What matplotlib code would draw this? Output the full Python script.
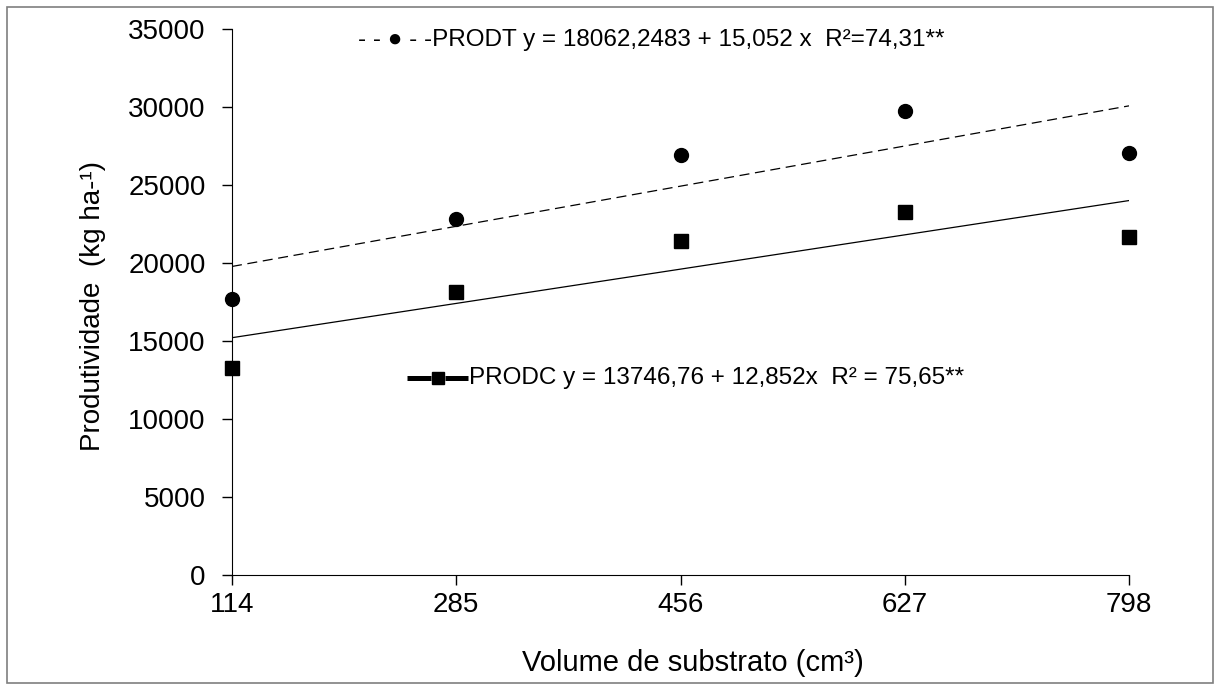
import matplotlib
matplotlib.use('Agg')
import matplotlib.pyplot as plt
from matplotlib.lines import Line2D
import numpy as np

plt.rcParams['font.family'] = ['Liberation Sans', 'DejaVu Sans']

# volumes de substrato (cm3)
volume = [114, 285, 456, 627, 798]
# produtividade observada (kg/ha)
prodt = [17700, 22850, 26950, 29750, 27050]
prodc = [13250, 18150, 21400, 23250, 21650]
# coeficientes das regressoes
prodt_coef = [18062.2483, 15.052]
prodc_coef = [13746.76, 12.852]
yticks = [0, 5000, 10000, 15000, 20000, 25000, 30000, 35000]

W, H = 1214, 684
fig = plt.figure(figsize=(W / 100, H / 100), dpi=100)
ax = fig.add_axes([232 / W, 1 - 575 / H, (1129 - 232) / W, (575 - 29) / H])

x = np.array(volume)
ax.plot(x, prodt_coef[0] + prodt_coef[1] * x, '--', color='black', lw=0.9, dashes=(8, 4.5))
ax.plot(x, prodc_coef[0] + prodc_coef[1] * x, '-', color='black', lw=0.9)
ax.plot(volume, prodt, 'o', color='black', ms=10, clip_on=False)
ax.plot(volume, prodc, 's', color='black', ms=9.5, clip_on=False)

ax.set_xlim(114, 798)
ax.set_ylim(0, 35000)
ax.set_xticks(volume)
ax.set_yticks(yticks)
ax.tick_params(labelsize=20, length=7, width=1, direction='out')
ax.tick_params(axis='y', pad=12)
ax.tick_params(axis='x', pad=5)
for s in ['top', 'right']:
    ax.spines[s].set_visible(False)

ax.set_xlabel('Volume de substrato (cm³)', fontsize=21)
ax.set_ylabel('Produtividade  (kg ha-¹)', fontsize=20)
ax.xaxis.set_label_coords((693 - 232) / (1129 - 232), -(663 - 575) / (575 - 29))
ax.yaxis.set_label_coords(-(232 - 93) / (1129 - 232), (575 - 306) / (575 - 29))
ax.xaxis.label.set_va('center')
ax.yaxis.label.set_va('center')

# legendas das regressoes
fig.text(358 / W, 1 - 40 / H, '- - \u25CF - -PRODT y = 18062,2483 + 15,052 x  R²=74,31**',
         fontsize=17.5, va='center', ha='left')
yl = 1 - 378 / H
fig.add_artist(Line2D([407 / W, 431 / W], [yl, yl], color='black', lw=3.6, solid_capstyle='butt'))
fig.add_artist(Line2D([445 / W, 468 / W], [yl, yl], color='black', lw=3.6, solid_capstyle='butt'))
fig.add_artist(Line2D([438 / W], [yl], marker='s', color='black', ms=8.5, lw=0))
fig.text(469 / W, yl, 'PRODC y = 13746,76 + 12,852x  R² = 75,65**',
         fontsize=17.5, va='center', ha='left')

# moldura
fig.patches.append(plt.Rectangle((7 / W, 1 / H), 1206 / W, 676 / H, transform=fig.transFigure,
                                 fill=False, edgecolor='#7f7f7f', lw=1.2))

fig.savefig('out.png', dpi=100)
